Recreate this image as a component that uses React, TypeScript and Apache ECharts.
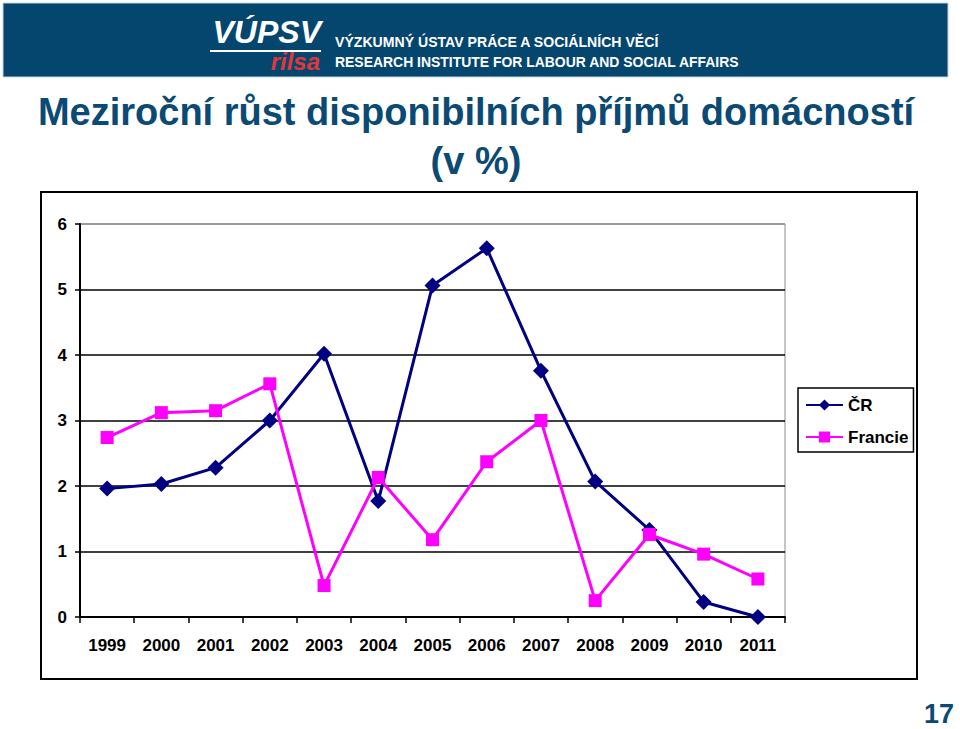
import React, { useEffect, useRef } from "react";
import * as echarts from "echarts";

const years = ["1999", "2000", "2001", "2002", "2003", "2004", "2005", "2006", "2007", "2008", "2009", "2010", "2011"];
const crValues = [1.96, 2.03, 2.28, 3.0, 4.02, 1.77, 5.06, 5.63, 3.76, 2.07, 1.33, 0.23, 0.0];
const frValues = [2.74, 3.12, 3.15, 3.56, 0.48, 2.13, 1.18, 2.37, 3.0, 0.25, 1.26, 0.96, 0.58];
const seriesNames = ["ČR", "Francie"];
const titleLine1 = "Meziroční růst disponibilních příjmů domácností";
const titleLine2 = "(v %)";
const bannerLine1 = "VÝZKUMNÝ ÚSTAV PRÁCE A SOCIÁLNÍCH VĚCÍ";
const bannerLine2 = "RESEARCH INSTITUTE FOR LABOUR AND SOCIAL AFFAIRS";
const pageNumber = "17";

const FONT = "'Liberation Sans', Arial, Helvetica, sans-serif";
const TITLE_COLOR = "#0b4a74";

export default function App() {
  const ref = useRef<HTMLDivElement>(null);
  useEffect(() => {
    if (!ref.current) return;
    const chart = echarts.init(ref.current, null, { renderer: "svg" });
    chart.setOption({
      animation: false,
      backgroundColor: "#ffffff",
      textStyle: { fontFamily: FONT },
      graphic: [
        { type: "rect", shape: { x: 3, y: 3, width: 945, height: 74 }, style: { fill: "#05466f", stroke: "#c8d2da", lineWidth: 1 }, z: 0 },
        { type: "text", x: 321, y: 32, style: { text: "VÚPSV", fill: "#ffffff", font: `italic bold 32px ${FONT}`, textAlign: "right", textVerticalAlign: "middle" } },
        { type: "line", shape: { x1: 210, y1: 51, x2: 321, y2: 51 }, style: { stroke: "#ffffff", lineWidth: 2 } },
        { type: "text", x: 320, y: 61, style: { text: "rilsa", fill: "#e2373a", font: `italic bold 24px ${FONT}`, textAlign: "right", textVerticalAlign: "middle" } },
        { type: "text", x: 335, y: 42, scaleX: 0.94, style: { text: bannerLine1, fill: "#ffffff", font: `bold 15px ${FONT}`, textAlign: "left", textVerticalAlign: "middle" } },
        { type: "text", x: 335, y: 62, scaleX: 0.93, style: { text: bannerLine2, fill: "#ffffff", font: `bold 15px ${FONT}`, textAlign: "left", textVerticalAlign: "middle" } },
        { type: "text", x: 476, y: 112, style: { text: titleLine1, fill: TITLE_COLOR, font: `bold 38px ${FONT}`, textAlign: "center", textVerticalAlign: "middle" } },
        { type: "text", x: 476, y: 161, style: { text: titleLine2, fill: TITLE_COLOR, font: `bold 38px ${FONT}`, textAlign: "center", textVerticalAlign: "middle" } },
        { type: "rect", shape: { x: 41, y: 192, width: 876, height: 487 }, style: { fill: "none", stroke: "#000000", lineWidth: 2 }, z: 0 },
        { type: "text", x: 954, y: 714, style: { text: pageNumber, fill: TITLE_COLOR, font: `bold 27px ${FONT}`, textAlign: "right", textVerticalAlign: "middle" } },
      ],
      grid: { left: 80, right: 175, top: 224, bottom: 112, show: true, borderColor: "#8c8c8c", borderWidth: 1, backgroundColor: "transparent" },
      legend: {
        orient: "vertical",
        left: 798,
        top: 388,
        data: seriesNames,
        itemWidth: 37,
        itemHeight: 14,
        itemGap: 12,
        padding: [7, 5, 5, 7],
        borderColor: "#000000",
        borderWidth: 1.5,
        backgroundColor: "#ffffff",
        textStyle: { fontFamily: FONT, fontSize: 17, fontWeight: "bold", color: "#000000", lineHeight: 20 },
      },
      xAxis: {
        type: "category",
        data: years,
        boundaryGap: true,
        axisLine: { lineStyle: { color: "#000000", width: 2 } },
        axisTick: { show: true, length: 6, inside: false, lineStyle: { color: "#000000", width: 1.5 } },
        axisLabel: { color: "#000000", fontFamily: FONT, fontSize: 17, fontWeight: "bold", margin: 20, interval: 0 },
        splitLine: { show: false },
      },
      yAxis: {
        type: "value",
        min: 0,
        max: 6,
        interval: 1,
        axisLine: { show: true, lineStyle: { color: "#000000", width: 2 } },
        axisTick: { show: true, length: 5, lineStyle: { color: "#000000", width: 1.5 } },
        axisLabel: { color: "#000000", fontFamily: FONT, fontSize: 17, fontWeight: "bold", margin: 13 },
        splitLine: { show: true, lineStyle: { color: ["#000000", "#000000", "#000000", "#000000", "#000000", "#000000", "#8c8c8c"], width: 1.5 } },
      },
      series: [
        {
          name: seriesNames[0],
          type: "line",
          data: crValues,
          symbol: "diamond",
          symbolSize: 16,
          lineStyle: { color: "#000080", width: 3 },
          itemStyle: { color: "#000080" },
          z: 3,
        },
        {
          name: seriesNames[1],
          type: "line",
          data: frValues,
          symbol: "rect",
          symbolSize: 13,
          lineStyle: { color: "#ff00ff", width: 3 },
          itemStyle: { color: "#ff00ff" },
          z: 4,
        },
      ],
    });
    return () => chart.dispose();
  }, []);
  return <div ref={ref} style={{ position: "absolute", left: 0, top: 0, width: 960, height: 729 }} />;
}
